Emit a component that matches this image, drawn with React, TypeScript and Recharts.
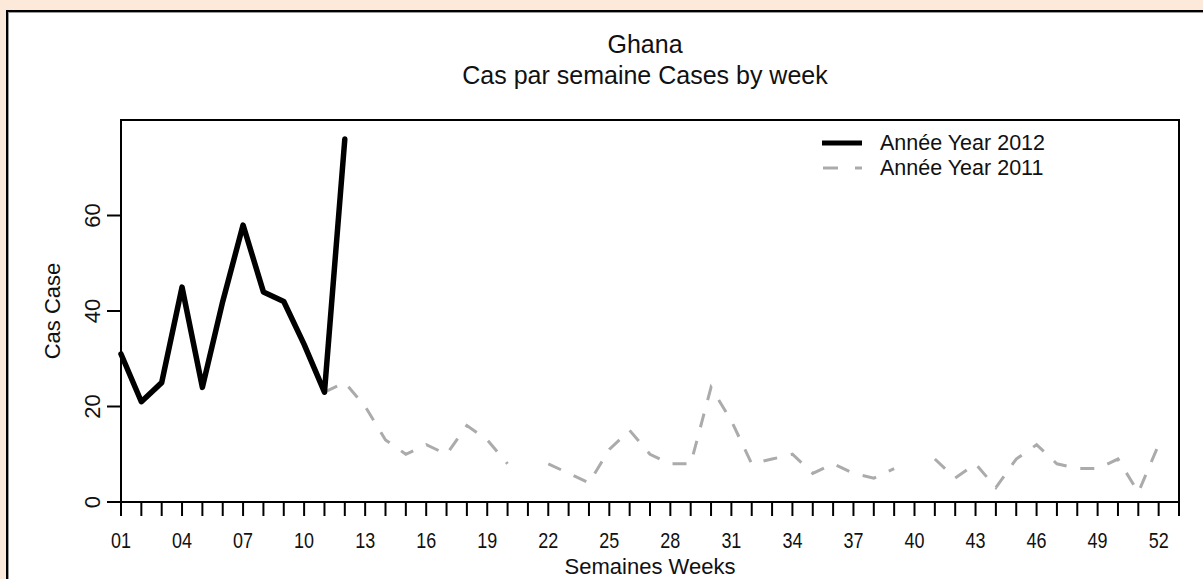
import React from 'react';
import { LineChart, Line, XAxis, YAxis, ReferenceArea } from 'recharts';

// semaines (catégories)
const weeks = [
  1, 2, 3, 4, 5, 6, 7, 8, 9, 10, 11, 12, 13, 14, 15, 16, 17, 18, 19, 20, 21, 22, 23, 24, 25, 26,
  27, 28, 29, 30, 31, 32, 33, 34, 35, 36, 37, 38, 39, 40, 41, 42, 43, 44, 45, 46, 47, 48, 49, 50, 51, 52,
];

// Année Year 2012 (semaines 1-12)
const cases2012 = [31, 21, 25, 45, 24, 42, 58, 44, 42, 33, 23, 76];

// Année Year 2011 (null = pas de donnée)
const cases2011: (number | null)[] = [
  null, null, null, null, null, null, null, null, null, null,
  23, 25, 20, 13, 10, 12, 10, 16, 13, 8, null, 8, 6, 4, 11, 15, 10, 8, 8, 24,
  17, 8, 9, 10, 6, 8, 6, 5, 7, null, 9, 5, 8, 3, 9, 12, 8, 7, 7, 9, 2, 12,
];

const weekLabels = ['01', '04', '07', '10', '13', '16', '19', '22', '25', '28', '31', '34', '37', '40', '43', '46', '49', '52'];
const yTicks = [0, 20, 40, 60];

const W = 1203;
const H = 579;
const FONT = '"Liberation Sans", Arial, sans-serif';
const GREY = '#ABABAB';

const data = weeks.map((w, i) => ({
  week: w,
  y2012: i < cases2012.length ? cases2012[i] : null,
  y2011: cases2011[i],
}));

// un trait de graduation par semaine, jusqu'à 53
const tickWeeks = [...weeks, 53];

const XTick = (props: any) => {
  const { x, y, payload } = props;
  const lab = String(payload.value).padStart(2, '0');
  if (!weekLabels.includes(lab)) return <g />;
  return (
    <text
      x={x}
      y={y + 30}
      textAnchor="middle"
      fontSize={22}
      fontFamily={FONT}
      fill="#111"
      textLength={20}
      lengthAdjust="spacingAndGlyphs"
    >
      {lab}
    </text>
  );
};

const YTick = (props: any) => {
  const { x, y, payload } = props;
  return (
    <text
      transform={`translate(${x - 5},${y}) rotate(-90)`}
      textAnchor="middle"
      fontSize={22}
      fontFamily={FONT}
      fill="#111"
    >
      {payload.value}
    </text>
  );
};

const XTitle = (props: any) => {
  const vb = props.viewBox;
  return (
    <text x={vb.x + vb.width / 2} y={vb.y + 72} textAnchor="middle" fontSize={22} fontFamily={FONT} fill="#111">
      Semaines Weeks
    </text>
  );
};

const YTitle = (props: any) => {
  const vb = props.viewBox;
  return (
    <text
      transform={`translate(${vb.x + 39},${vb.y + vb.height / 2}) rotate(-90)`}
      textAnchor="middle"
      fontSize={22}
      fontFamily={FONT}
      fill="#111"
    >
      Cas Case
    </text>
  );
};

export default function App() {
  return (
    <div
      style={{
        position: 'absolute',
        left: 0,
        top: 0,
        width: W,
        height: H,
        background: '#FDE9D9',
        overflow: 'hidden',
        fontFamily: FONT,
      }}
    >
      {/* cadre blanc */}
      <div
        style={{
          position: 'absolute',
          left: 6,
          top: 10,
          width: 1230,
          height: 620,
          background: '#fff',
          borderTop: '2px solid #000',
          borderLeft: '2px solid #000',
          boxShadow: 'inset 1px 1px 0 #9a9a9a',
        }}
      />

      <div style={{ position: 'absolute', left: 0, top: 0 }}>
        <LineChart width={W} height={H} data={data} margin={{ top: 120, right: 24, bottom: 7, left: 21 }}>
          <XAxis
            dataKey="week"
            type="number"
            domain={[1, 53]}
            ticks={tickWeeks}
            interval={0}
            height={70}
            tickSize={14}
            axisLine={{ stroke: '#000', strokeWidth: 2 }}
            tickLine={{ stroke: '#000', strokeWidth: 2 }}
            tick={<XTick />}
            label={{ content: XTitle }}
          />
          <YAxis
            type="number"
            domain={[0, 80]}
            ticks={yTicks}
            width={100}
            tickSize={14}
            axisLine={{ stroke: '#000', strokeWidth: 2 }}
            tickLine={{ stroke: '#000', strokeWidth: 2 }}
            tick={<YTick />}
            label={{ content: YTitle }}
          />

          {/* cadre du graphique */}
          <ReferenceArea
            x1={1}
            x2={53}
            y1={0}
            y2={80}
            fill="none"
            fillOpacity={0}
            stroke="#000"
            strokeWidth={2}
            strokeOpacity={1}
            ifOverflow="visible"
          />

          <Line
            dataKey="y2011"
            type="linear"
            stroke={GREY}
            strokeWidth={3}
            strokeDasharray="14 14"
            dot={false}
            activeDot={false}
            connectNulls={false}
            isAnimationActive={false}
          />
          <Line
            dataKey="y2012"
            type="linear"
            stroke="#000"
            strokeWidth={5.5}
            strokeLinejoin="round"
            strokeLinecap="round"
            dot={false}
            activeDot={false}
            connectNulls={false}
            isAnimationActive={false}
          />
        </LineChart>
      </div>

      {/* titre et légende */}
      <svg width={W} height={H} style={{ position: 'absolute', left: 0, top: 0, pointerEvents: 'none' }}>
        <text x={645} y={53} textAnchor="middle" fontSize={25} fontFamily={FONT} fill="#111">
          Ghana
        </text>
        <text x={645} y={84} textAnchor="middle" fontSize={25} fontFamily={FONT} fill="#111">
          Cas par semaine Cases by week
        </text>

        <line x1={822} y1={143} x2={862} y2={143} stroke="#000" strokeWidth={5} />
        <text x={880} y={150} fontSize={21.5} fontFamily={FONT} fill="#111">
          Année Year 2012
        </text>
        <line x1={823} y1={168} x2={862} y2={168} stroke={GREY} strokeWidth={3} strokeDasharray="15 17" />
        <text x={880} y={175} fontSize={21.5} fontFamily={FONT} fill="#111">
          Année Year 2011
        </text>
      </svg>
    </div>
  );
}
